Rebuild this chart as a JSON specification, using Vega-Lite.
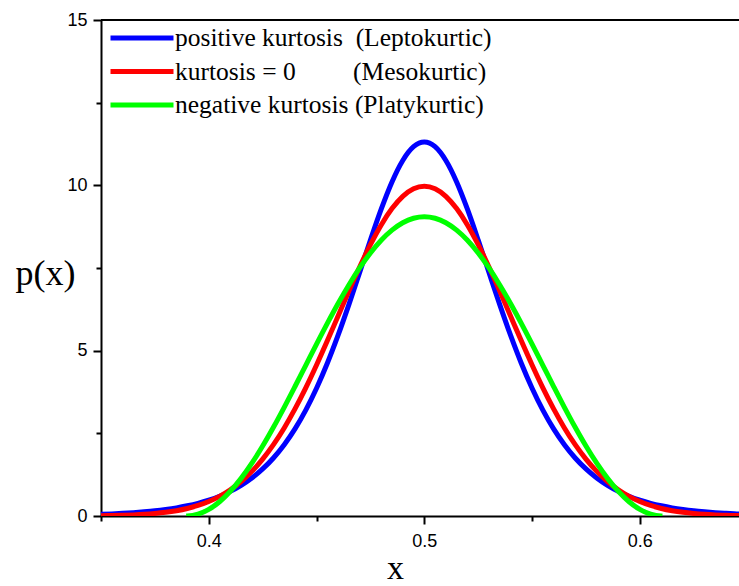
{
  "$schema": "https://vega.github.io/schema/vega-lite/v6.json",
  "width": 638,
  "height": 496,
  "autosize": {"type": "none"},
  "padding": {"left": 101, "top": 20, "right": 0, "bottom": 70},
  "background": "white",
  "config": {
    "view": {"stroke": null},
    "axis": {
      "domainColor": "black", "domainWidth": 2, "tickColor": "black", "tickWidth": 2,
      "grid": false, "labelFont": "Liberation Sans", "labelFontSize": 18, "labelColor": "black",
      "titleFont": "Liberation Serif", "titleFontWeight": "normal", "titleColor": "black",
      "labelOverlap": false, "labelFlush": false
    },
    "legend": {"labelFont": "Liberation Serif", "labelFontSize": 25.5, "labelColor": "black"}
  },
  "layer": [
    {
      "data": {"values": [
        {"x":0.35,"p":0.051,"s":"L"},{"x":0.355,"p":0.064,"s":"L"},{"x":0.36,"p":0.08,"s":"L"},{"x":0.365,"p":0.1,"s":"L"},{"x":0.37,"p":0.126,"s":"L"},{"x":0.375,"p":0.157,"s":"L"},{"x":0.38,"p":0.197,"s":"L"},{"x":0.385,"p":0.246,"s":"L"},{"x":0.39,"p":0.308,"s":"L"},{"x":0.395,"p":0.384,"s":"L"},{"x":0.4,"p":0.48,"s":"L"},{"x":0.405,"p":0.598,"s":"L"},{"x":0.41,"p":0.745,"s":"L"},{"x":0.415,"p":0.927,"s":"L"},{"x":0.42,"p":1.15,"s":"L"},{"x":0.425,"p":1.423,"s":"L"},{"x":0.43,"p":1.755,"s":"L"},{"x":0.435,"p":2.156,"s":"L"},{"x":0.44,"p":2.635,"s":"L"},{"x":0.445,"p":3.203,"s":"L"},{"x":0.45,"p":3.864,"s":"L"},{"x":0.455,"p":4.621,"s":"L"},{"x":0.46,"p":5.469,"s":"L"},{"x":0.465,"p":6.393,"s":"L"},{"x":0.47,"p":7.365,"s":"L"},{"x":0.475,"p":8.345,"s":"L"},{"x":0.48,"p":9.279,"s":"L"},{"x":0.485,"p":10.103,"s":"L"},{"x":0.49,"p":10.752,"s":"L"},{"x":0.495,"p":11.169,"s":"L"},{"x":0.5,"p":11.312,"s":"L"},{"x":0.505,"p":11.169,"s":"L"},{"x":0.51,"p":10.752,"s":"L"},{"x":0.515,"p":10.103,"s":"L"},{"x":0.52,"p":9.279,"s":"L"},{"x":0.525,"p":8.345,"s":"L"},{"x":0.53,"p":7.365,"s":"L"},{"x":0.535,"p":6.393,"s":"L"},{"x":0.54,"p":5.469,"s":"L"},{"x":0.545,"p":4.621,"s":"L"},{"x":0.55,"p":3.864,"s":"L"},{"x":0.555,"p":3.203,"s":"L"},{"x":0.56,"p":2.635,"s":"L"},{"x":0.565,"p":2.156,"s":"L"},{"x":0.57,"p":1.755,"s":"L"},{"x":0.575,"p":1.423,"s":"L"},{"x":0.58,"p":1.15,"s":"L"},{"x":0.585,"p":0.927,"s":"L"},{"x":0.59,"p":0.745,"s":"L"},{"x":0.595,"p":0.598,"s":"L"},{"x":0.6,"p":0.48,"s":"L"},{"x":0.605,"p":0.384,"s":"L"},{"x":0.61,"p":0.308,"s":"L"},{"x":0.615,"p":0.246,"s":"L"},{"x":0.62,"p":0.197,"s":"L"},{"x":0.625,"p":0.157,"s":"L"},{"x":0.63,"p":0.126,"s":"L"},{"x":0.635,"p":0.1,"s":"L"},{"x":0.64,"p":0.08,"s":"L"},{"x":0.645,"p":0.064,"s":"L"},{"x":0.65,"p":0.051,"s":"L"},
        {"x":0.35,"p":0.009,"s":"M"},{"x":0.355,"p":0.014,"s":"M"},{"x":0.36,"p":0.022,"s":"M"},{"x":0.365,"p":0.034,"s":"M"},{"x":0.37,"p":0.051,"s":"M"},{"x":0.375,"p":0.076,"s":"M"},{"x":0.38,"p":0.111,"s":"M"},{"x":0.385,"p":0.16,"s":"M"},{"x":0.39,"p":0.227,"s":"M"},{"x":0.395,"p":0.318,"s":"M"},{"x":0.4,"p":0.438,"s":"M"},{"x":0.405,"p":0.594,"s":"M"},{"x":0.41,"p":0.794,"s":"M"},{"x":0.415,"p":1.043,"s":"M"},{"x":0.42,"p":1.35,"s":"M"},{"x":0.425,"p":1.72,"s":"M"},{"x":0.43,"p":2.157,"s":"M"},{"x":0.435,"p":2.663,"s":"M"},{"x":0.44,"p":3.238,"s":"M"},{"x":0.445,"p":3.875,"s":"M"},{"x":0.45,"p":4.566,"s":"M"},{"x":0.455,"p":5.297,"s":"M"},{"x":0.46,"p":6.049,"s":"M"},{"x":0.465,"p":6.802,"s":"M"},{"x":0.47,"p":7.529,"s":"M"},{"x":0.475,"p":8.204,"s":"M"},{"x":0.48,"p":8.802,"s":"M"},{"x":0.485,"p":9.296,"s":"M"},{"x":0.49,"p":9.667,"s":"M"},{"x":0.495,"p":9.896,"s":"M"},{"x":0.5,"p":9.974,"s":"M"},{"x":0.505,"p":9.896,"s":"M"},{"x":0.51,"p":9.667,"s":"M"},{"x":0.515,"p":9.296,"s":"M"},{"x":0.52,"p":8.802,"s":"M"},{"x":0.525,"p":8.204,"s":"M"},{"x":0.53,"p":7.529,"s":"M"},{"x":0.535,"p":6.802,"s":"M"},{"x":0.54,"p":6.049,"s":"M"},{"x":0.545,"p":5.297,"s":"M"},{"x":0.55,"p":4.566,"s":"M"},{"x":0.555,"p":3.875,"s":"M"},{"x":0.56,"p":3.238,"s":"M"},{"x":0.565,"p":2.663,"s":"M"},{"x":0.57,"p":2.157,"s":"M"},{"x":0.575,"p":1.72,"s":"M"},{"x":0.58,"p":1.35,"s":"M"},{"x":0.585,"p":1.043,"s":"M"},{"x":0.59,"p":0.794,"s":"M"},{"x":0.595,"p":0.594,"s":"M"},{"x":0.6,"p":0.438,"s":"M"},{"x":0.605,"p":0.318,"s":"M"},{"x":0.61,"p":0.227,"s":"M"},{"x":0.615,"p":0.16,"s":"M"},{"x":0.62,"p":0.111,"s":"M"},{"x":0.625,"p":0.076,"s":"M"},{"x":0.63,"p":0.051,"s":"M"},{"x":0.635,"p":0.034,"s":"M"},{"x":0.64,"p":0.022,"s":"M"},{"x":0.645,"p":0.014,"s":"M"},{"x":0.65,"p":0.009,"s":"M"},
        {"x":0.3895,"p":0,"s":"P"},{"x":0.39,"p":0.0005,"s":"P"},{"x":0.395,"p":0.055,"s":"P"},{"x":0.4,"p":0.2,"s":"P"},{"x":0.405,"p":0.432,"s":"P"},{"x":0.41,"p":0.747,"s":"P"},{"x":0.415,"p":1.138,"s":"P"},{"x":0.42,"p":1.597,"s":"P"},{"x":0.425,"p":2.116,"s":"P"},{"x":0.43,"p":2.683,"s":"P"},{"x":0.435,"p":3.287,"s":"P"},{"x":0.44,"p":3.916,"s":"P"},{"x":0.445,"p":4.557,"s":"P"},{"x":0.45,"p":5.198,"s":"P"},{"x":0.455,"p":5.825,"s":"P"},{"x":0.46,"p":6.426,"s":"P"},{"x":0.465,"p":6.988,"s":"P"},{"x":0.47,"p":7.501,"s":"P"},{"x":0.475,"p":7.954,"s":"P"},{"x":0.48,"p":8.338,"s":"P"},{"x":0.485,"p":8.644,"s":"P"},{"x":0.49,"p":8.868,"s":"P"},{"x":0.495,"p":9.004,"s":"P"},{"x":0.5,"p":9.05,"s":"P"},{"x":0.505,"p":9.004,"s":"P"},{"x":0.51,"p":8.868,"s":"P"},{"x":0.515,"p":8.644,"s":"P"},{"x":0.52,"p":8.338,"s":"P"},{"x":0.525,"p":7.954,"s":"P"},{"x":0.53,"p":7.501,"s":"P"},{"x":0.535,"p":6.988,"s":"P"},{"x":0.54,"p":6.426,"s":"P"},{"x":0.545,"p":5.825,"s":"P"},{"x":0.55,"p":5.198,"s":"P"},{"x":0.555,"p":4.557,"s":"P"},{"x":0.56,"p":3.916,"s":"P"},{"x":0.565,"p":3.287,"s":"P"},{"x":0.57,"p":2.683,"s":"P"},{"x":0.575,"p":2.116,"s":"P"},{"x":0.58,"p":1.597,"s":"P"},{"x":0.585,"p":1.138,"s":"P"},{"x":0.59,"p":0.747,"s":"P"},{"x":0.595,"p":0.432,"s":"P"},{"x":0.6,"p":0.2,"s":"P"},{"x":0.605,"p":0.055,"s":"P"},{"x":0.61,"p":0.0005,"s":"P"},{"x":0.6105,"p":0,"s":"P"}
      ]},
      "mark": {"type": "line", "strokeWidth": 5, "clip": true, "interpolate": "monotone"},
      "encoding": {
        "x": {
          "field": "x", "type": "quantitative",
          "scale": {"domain": [0.35, 0.646], "nice": false, "zero": false},
          "axis": {
            "values": [0.35, 0.4, 0.45, 0.5, 0.55, 0.6],
            "labelExpr": "round(datum.value*100) % 10 == 0 ? format(datum.value, '.1f') : ''",
            "tickSize": {"condition": {"test": "round(datum.value*100) % 10 == 0", "value": 8}, "value": 5},
            "labelPadding": 8, "labelFontSize": 18, "labelFont": "Liberation Sans",
            "title": "x", "titleFontSize": 34, "titleX": 294, "titleY": 62, "titleBaseline": "alphabetic"
          }
        },
        "y": {
          "field": "p", "type": "quantitative",
          "scale": {"domain": [0, 15], "nice": false},
          "axis": {
            "values": [0, 2.5, 5, 7.5, 10, 12.5, 15],
            "labelExpr": "datum.value % 5 == 0 ? format(datum.value, 'd') : ''",
            "tickSize": {"condition": {"test": "datum.value % 5 == 0", "value": 8}, "value": 5},
            "labelPadding": 6, "labelFontSize": 18, "labelFont": "Liberation Sans",
            "title": "p(x)", "titleFontSize": 36, "titleAngle": 0, "titleAlign": "center", "titleBaseline": "middle",
            "titleX": -56, "titleY": 253
          }
        },
        "color": {
          "field": "s", "type": "nominal",
          "scale": {"domain": ["L", "M", "P"], "range": ["#0000ff", "#ff0000", "#00ff00"]},
          "legend": {
            "orient": "none", "legendX": 28, "legendY": 5, "title": null,
            "symbolType": "M-3,0H3", "symbolSize": 441, "symbolStrokeWidth": 5,
            "labelFont": "Liberation Serif", "labelFontSize": 25.5, "labelColor": "black",
            "labelOffset": 20, "rowPadding": 6.5, "padding": 0, "labelLimit": 0,
            "labelExpr": "datum.label == 'L' ? 'positive kurtosis\u00a0\u00a0(Leptokurtic)' : datum.label == 'M' ? 'kurtosis = 0\u00a0\u00a0\u00a0\u00a0\u00a0\u00a0\u00a0\u00a0\u00a0(Mesokurtic)' : 'negative kurtosis (Platykurtic)'"
          }
        }
      }
    },
    {
      "data": {"values": [{"p": 15}]},
      "mark": {"type": "rule", "color": "black", "strokeWidth": 2},
      "encoding": {"y": {"field": "p", "type": "quantitative"}}
    }
  ]
}
